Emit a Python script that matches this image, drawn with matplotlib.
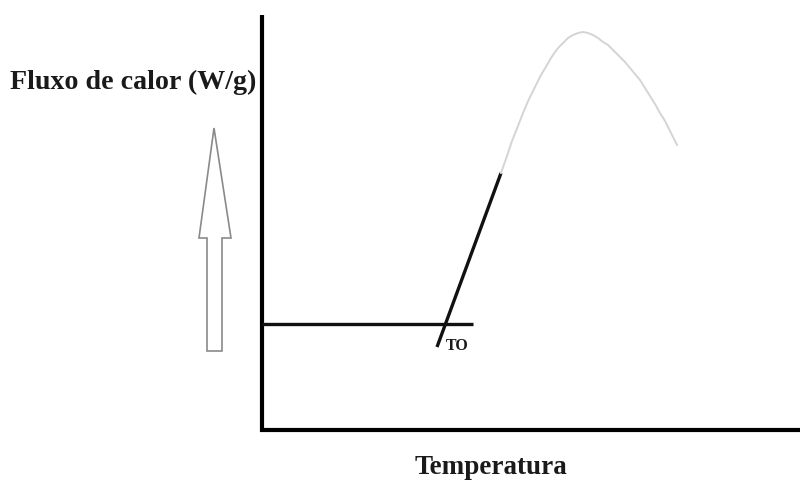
import matplotlib
matplotlib.use("Agg")
import matplotlib.pyplot as plt
from matplotlib.patches import Polygon

# Schematic data (drawing coordinates, y grows downward)
axis_x = [262, 262, 800]
axis_y = [15, 430, 430]

baseline_x = [262, 473]
baseline_y = [324, 324]

tangent_x = [437, 501]
tangent_y = [347, 173]

peak_x = [501, 507, 512, 518, 523, 529, 535, 541, 547, 551, 555, 559, 563, 568, 573, 578, 583, 588, 593, 598, 603, 608, 612, 616, 620, 625, 630, 635, 640, 645, 650, 655, 660, 665, 669, 673, 677]
peak_y = [173, 156, 141, 126, 113, 99, 87, 75, 65, 58, 52, 47, 43, 38, 35, 33, 32, 33, 35, 38, 42, 45, 49, 53, 57, 62, 68, 74, 80, 88, 96, 104, 113, 121, 129, 137, 145]

arrow_x = [214, 231, 222, 222, 207, 207, 199]
arrow_y = [128, 238, 238, 351, 351, 238, 238]

y_label = "Fluxo de calor (W/g)"
x_label = "Temperatura"
onset_label = "TO"

fig = plt.figure(figsize=(8.03, 4.84), dpi=100)
ax = fig.add_axes([0, 0, 1, 1])
ax.set_xlim(0, 803)
ax.set_ylim(484, 0)
ax.axis("off")

ax.plot(axis_x, axis_y, color="black", lw=3.0, solid_joinstyle="miter", solid_capstyle="butt")
ax.plot(baseline_x, baseline_y, color="#111111", lw=2.4, solid_capstyle="butt")
ax.plot(tangent_x, tangent_y, color="#111111", lw=2.4, solid_capstyle="butt")
ax.plot(peak_x, peak_y, color="#d4d4d4", lw=1.4, solid_joinstyle="round")

ax.add_patch(Polygon(list(zip(arrow_x, arrow_y)), closed=True, facecolor="white",
                     edgecolor="#8a8a8a", lw=1.2))

serif = ["Liberation Serif", "DejaVu Serif"]
ax.text(10, 82, y_label, family=serif, fontweight="bold", fontsize=20.2,
        ha="left", va="center", color="#1a1a1a")
ax.text(491, 467, x_label, family=serif, fontweight="bold", fontsize=19.5,
        ha="center", va="center", color="#1a1a1a")
ax.text(446, 346, onset_label, family=serif, fontweight="bold", fontsize=11.5,
        ha="left", va="center", color="#1a1a1a")

fig.savefig("out.png", dpi=100)
